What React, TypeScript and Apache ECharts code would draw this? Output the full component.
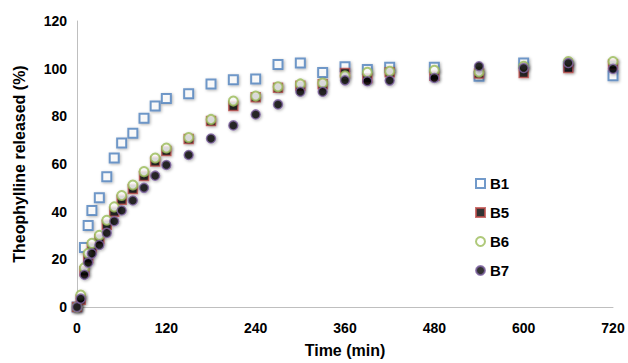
import React, { useEffect, useRef } from "react";
import * as echarts from "echarts";

const times = [0, 5, 10, 15, 20, 30, 40, 50, 60, 75, 90, 105, 120, 150, 180, 210, 240, 270, 300, 330, 360, 390, 420, 480, 540, 600, 660, 720];
const b1 = [0, null, 25, 34.2, 40.5, 45.8, 54.6, 62.5, 68.8, 72.9, 79.2, 84.3, 87.5, 89.5, 93.6, 95.4, 95.7, 101.7, 102.4, 98.4, 100.8, 99.6, 100.6, 100.6, 96.8, 102.4, 101, 97];
const b5 = [0, 3, 15, 20.5, 25, 28.5, 34.5, 40, 45, 49.5, 55, 61, 65.5, 70.5, 78, 84.3, 88, 92, 92.8, 93.5, 98.2, 96, 98.5, 97, 98, 98.2, 100.3, 101.7];
const b6 = [0, 5, 16.5, 22.5, 26.7, 30.1, 36.4, 42, 46.8, 51.2, 56.8, 62.5, 66.7, 71.1, 78.7, 86.4, 88.5, 92.4, 93.6, 94, 97, 98.5, 98.9, 99.3, 98.6, 101, 103, 103];
const b7 = [0, 3.5, 13.5, 18.6, 22.4, 26, 31.1, 36, 40.5, 44.7, 50, 55.1, 59.6, 63.8, 70.7, 76.2, 80.8, 85, 90.3, 90.3, 95.1, 94.7, 95, 96.1, 101, 100.3, 102.4, 99.9];

const FONT = "'Liberation Sans', Arial, sans-serif";

function pairs(vals: (number | null)[]) {
  const out: [number, number][] = [];
  vals.forEach((v, i) => {
    if (v !== null) out.push([times[i], v]);
  });
  return out;
}

const shadow = {
  shadowBlur: 3,
  shadowColor: "rgba(0,0,0,0.35)",
  shadowOffsetX: 1,
  shadowOffsetY: 1,
};

export default function App() {
  const ref = useRef<HTMLDivElement>(null);
  useEffect(() => {
    if (!ref.current) return;
    const chart = echarts.init(ref.current, null, { renderer: "svg" });
    chart.setOption({
      animation: false,
      backgroundColor: "#ffffff",
      grid: { left: 77, right: 15, top: 21, bottom: 54 },
      xAxis: {
        type: "value",
        min: 0,
        max: 720,
        interval: 120,
        name: "Time (min)",
        nameLocation: "middle",
        nameGap: 35,
        nameTextStyle: { fontFamily: FONT, fontWeight: "bold", fontSize: 16, color: "#000" },
        axisLine: { show: true, lineStyle: { color: "#bfbfbf", width: 1 } },
        axisTick: { show: false },
        splitLine: { show: false },
        axisLabel: { margin: 14, fontFamily: FONT, fontWeight: "bold", fontSize: 14, color: "#000" },
      },
      yAxis: {
        type: "value",
        min: 0,
        max: 120,
        interval: 20,
        name: "Theophylline released (%)",
        nameLocation: "middle",
        nameGap: 50,
        nameTextStyle: { fontFamily: FONT, fontWeight: "bold", fontSize: 16, color: "#000" },
        axisLine: { show: true, lineStyle: { color: "#bfbfbf", width: 1 } },
        axisTick: { show: false },
        splitLine: { show: false },
        axisLabel: { margin: 10, fontFamily: FONT, fontWeight: "bold", fontSize: 14, color: "#000" },
      },
      legend: {
        orient: "vertical",
        left: 470,
        top: 171,
        itemWidth: 9,
        itemHeight: 9,
        itemGap: 14,
        textStyle: { fontFamily: FONT, fontWeight: "bold", fontSize: 15, color: "#000" },
        data: ["B1", "B5", "B6", "B7"],
      },
      series: [
        {
          name: "B1",
          type: "scatter",
          symbol: "rect",
          symbolSize: 9,
          data: pairs(b1),
          itemStyle: { color: "#ffffff", borderColor: "#4f81bd", borderWidth: 2, ...shadow },
        },
        {
          name: "B5",
          type: "scatter",
          symbol: "rect",
          symbolSize: 9,
          data: pairs(b5),
          itemStyle: { color: "#000000", borderColor: "#c0504d", borderWidth: 1.5, ...shadow },
        },
        {
          name: "B6",
          type: "scatter",
          symbol: "circle",
          symbolSize: 9,
          data: pairs(b6),
          itemStyle: { color: "#ffffff", borderColor: "#9bbb59", borderWidth: 2, ...shadow },
        },
        {
          name: "B7",
          type: "scatter",
          symbol: "circle",
          symbolSize: 9,
          data: pairs(b7),
          itemStyle: { color: "#000000", borderColor: "#8064a2", borderWidth: 1.5, ...shadow },
        },
      ],
    });
    return () => chart.dispose();
  }, []);
  return <div ref={ref} style={{ width: 628, height: 363, position: "absolute", left: 0, top: 0 }} />;
}
